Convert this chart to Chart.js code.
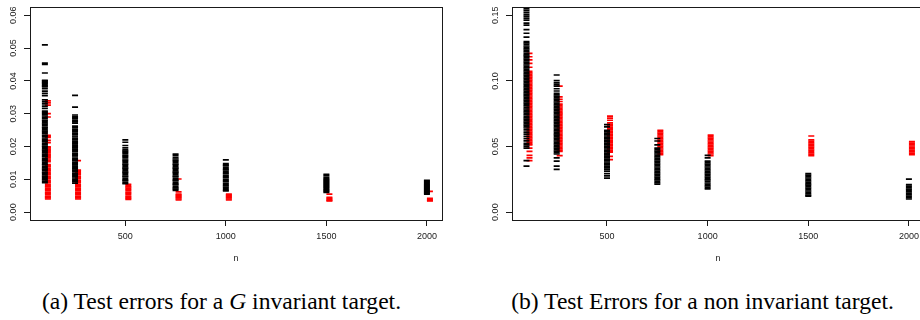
<!DOCTYPE html>
<html><head><meta charset="utf-8">
<script src="https://cdn.jsdelivr.net/npm/chart.js@4"></script>
<style>
html,body{margin:0;padding:0;background:#fff;}
#wrap{position:relative;width:920px;height:320px;overflow:hidden;background:#fff;}
canvas{position:absolute;top:0;}
#ca{left:0;}
#cb{left:460px;}
.cap{position:absolute;top:289px;font-family:"Liberation Serif","Tinos","Times New Roman","DejaVu Serif",serif;font-size:23.6px;line-height:24px;color:#000;white-space:nowrap;text-align:center;}
#capA{left:0;width:443px;}
#capB{left:485px;width:435px;}
</style></head><body>
<div id="wrap">
<canvas id="ca" width="460" height="275"></canvas>
<canvas id="cb" width="480" height="275"></canvas>
<div class="cap" id="capA">(a) Test errors for a <i>G</i> invariant target.</div>
<div class="cap" id="capB">(b) Test Errors for a non invariant target.</div>
</div>
<script>
// ---- data ----
const nValues = [100, 250, 500, 750, 1000, 1500, 2000];
const xTicks = [500, 1000, 1500, 2000];
const xTitle = 'n';
const yTicksA = [0, 0.01, 0.02, 0.03, 0.04, 0.05, 0.06];
const yLabelsA = ['0.00', '0.01', '0.02', '0.03', '0.04', '0.05', '0.06'];
const yTicksB = [0, 0.05, 0.10, 0.15];
const yLabelsB = ['0.00', '0.05', '0.10', '0.15'];

// panel (a): G invariant target — black and red test errors per n
const aBlack = [
  [0.0510,0.0454,0.0450,0.0424,0.0402,0.0400,0.0397,0.0394,0.0392,0.0388,0.0385,0.0382,0.0376,0.0369,0.0362,0.0355,0.0342,0.0336,0.0330,0.0323,0.0316,0.0308,0.0304,0.0301,0.0297,0.0293,0.0289,0.0285,0.0280,0.0277,0.0272,0.0268,0.0264,0.0259,0.0256,0.0251,0.0247,0.0243,0.0239,0.0234,0.0231,0.0226,0.0222,0.0218,0.0214,0.0209,0.0206,0.0201,0.0198,0.0193,0.0189,0.0185,0.0181,0.0177,0.0172,0.0169,0.0164,0.0160,0.0156,0.0152,0.0147,0.0144,0.0139,0.0135,0.0131,0.0127,0.0122,0.0119,0.0114,0.0110,0.0106,0.0102,0.0098,0.0094,0.0090],
  [0.0356,0.0320,0.0296,0.0291,0.0287,0.0284,0.0279,0.0275,0.0271,0.0262,0.0258,0.0253,0.0249,0.0245,0.0241,0.0237,0.0232,0.0229,0.0224,0.0220,0.0216,0.0212,0.0208,0.0204,0.0199,0.0196,0.0192,0.0188,0.0184,0.0179,0.0176,0.0172,0.0168,0.0163,0.0160,0.0156,0.0151,0.0148,0.0144,0.0140,0.0135,0.0132,0.0128,0.0124,0.0119,0.0116,0.0112,0.0108,0.0104,0.0100,0.0096,0.0092,0.0088],
  [0.0220,0.0213,0.0203,0.0196,0.0190,0.0186,0.0182,0.0179,0.0174,0.0170,0.0167,0.0162,0.0158,0.0155,0.0150,0.0146,0.0143,0.0138,0.0134,0.0131,0.0126,0.0122,0.0119,0.0114,0.0110,0.0107,0.0102,0.0098,0.0095,0.0090,0.0087],
  [0.0177,0.0172,0.0166,0.0162,0.0158,0.0155,0.0150,0.0146,0.0143,0.0138,0.0134,0.0131,0.0126,0.0122,0.0119,0.0114,0.0110,0.0107,0.0102,0.0098,0.0095,0.0090,0.0086,0.0083,0.0078,0.0074,0.0070,0.0066],
  [0.0159,0.0148,0.0144,0.0141,0.0136,0.0132,0.0129,0.0124,0.0120,0.0117,0.0112,0.0108,0.0105,0.0100,0.0096,0.0093,0.0088,0.0084,0.0081,0.0076,0.0072,0.0068,0.0065],
  [0.0115,0.0111,0.0106,0.0102,0.0099,0.0096,0.0093,0.0090,0.0087,0.0084,0.0081,0.0078,0.0075,0.0072,0.0069,0.0066,0.0063,0.0060],
  [0.0097,0.0094,0.0091,0.0088,0.0085,0.0082,0.0079,0.0076,0.0073,0.0070,0.0067,0.0064,0.0061,0.0058,0.0055]
];
const aRed = [
  [0.0339,0.0333,0.0326,0.0300,0.0290,0.0234,0.0231,0.0228,0.0219,0.0212,0.0199,0.0196,0.0192,0.0188,0.0185,0.0181,0.0177,0.0173,0.0170,0.0166,0.0162,0.0158,0.0154,0.0145,0.0141,0.0138,0.0133,0.0129,0.0126,0.0121,0.0117,0.0114,0.0109,0.0105,0.0102,0.0097,0.0093,0.0090,0.0085,0.0081,0.0078,0.0073,0.0069,0.0066,0.0061,0.0057,0.0054,0.0049,0.0046,0.0043,0.0040],
  [0.0157,0.0128,0.0125,0.0121,0.0117,0.0114,0.0109,0.0105,0.0102,0.0097,0.0093,0.0090,0.0085,0.0081,0.0078,0.0073,0.0069,0.0066,0.0061,0.0057,0.0054,0.0049,0.0046,0.0043,0.0040],
  [0.0085,0.0081,0.0077,0.0073,0.0069,0.0066,0.0061,0.0057,0.0054,0.0049,0.0045,0.0042,0.0039],
  [0.0101,0.0062,0.0055,0.0052,0.0049,0.0046,0.0043,0.0040,0.0037],
  [0.0055,0.0052,0.0049,0.0046,0.0043,0.0040,0.0037],
  [0.0055,0.0045,0.0042,0.0039,0.0036,0.0034],
  [0.0063,0.0042,0.0039,0.0036,0.0034]
];

// panel (b): non invariant target
const bBlack = [
  [0.1550,0.1537,0.1522,0.1507,0.1493,0.1478,0.1463,0.1440,0.1425,0.1390,0.1363,0.1333,0.1300,0.1289,0.1278,0.1266,0.1255,0.1244,0.1233,0.1222,0.1210,0.1199,0.1188,0.1177,0.1166,0.1155,0.1143,0.1132,0.1121,0.1110,0.1099,0.1088,0.1076,0.1065,0.1054,0.1043,0.1032,0.1021,0.1010,0.0998,0.0987,0.0976,0.0965,0.0954,0.0943,0.0931,0.0920,0.0909,0.0898,0.0887,0.0876,0.0864,0.0853,0.0842,0.0831,0.0820,0.0809,0.0797,0.0786,0.0775,0.0764,0.0753,0.0742,0.0730,0.0719,0.0708,0.0697,0.0686,0.0675,0.0663,0.0652,0.0641,0.0626,0.0610,0.0594,0.0577,0.0560,0.0543,0.0525,0.0513,0.0500,0.0487,0.0393,0.0350],
  [0.1045,0.1002,0.0985,0.0972,0.0960,0.0940,0.0923,0.0905,0.0894,0.0883,0.0872,0.0861,0.0850,0.0839,0.0828,0.0817,0.0806,0.0795,0.0784,0.0773,0.0762,0.0751,0.0740,0.0729,0.0718,0.0707,0.0696,0.0685,0.0674,0.0663,0.0652,0.0641,0.0630,0.0619,0.0608,0.0597,0.0586,0.0575,0.0564,0.0553,0.0542,0.0531,0.0520,0.0509,0.0498,0.0487,0.0476,0.0465,0.0454,0.0443,0.0413,0.0388,0.0350,0.0326],
  [0.0666,0.0649,0.0624,0.0613,0.0602,0.0591,0.0580,0.0569,0.0558,0.0547,0.0536,0.0525,0.0514,0.0503,0.0492,0.0481,0.0470,0.0459,0.0448,0.0437,0.0426,0.0415,0.0404,0.0393,0.0382,0.0371,0.0360,0.0349,0.0338,0.0327,0.0313,0.0293,0.0276,0.0259],
  [0.0561,0.0542,0.0513,0.0487,0.0476,0.0465,0.0454,0.0443,0.0432,0.0421,0.0410,0.0399,0.0388,0.0377,0.0366,0.0355,0.0344,0.0333,0.0322,0.0311,0.0300,0.0289,0.0278,0.0267,0.0256,0.0245,0.0234,0.0224,0.0214],
  [0.0433,0.0413,0.0388,0.0377,0.0366,0.0355,0.0344,0.0333,0.0322,0.0311,0.0300,0.0289,0.0278,0.0267,0.0256,0.0245,0.0234,0.0222,0.0211,0.0200,0.0188,0.0177],
  [0.0293,0.0282,0.0271,0.0260,0.0249,0.0238,0.0227,0.0216,0.0205,0.0194,0.0183,0.0172,0.0161,0.0150,0.0139,0.0128,0.0122],
  [0.0251,0.0209,0.0198,0.0187,0.0176,0.0165,0.0154,0.0143,0.0132,0.0121,0.0110,0.0100]
];
const bRed = [
  [0.1209,0.1184,0.1160,0.1134,0.1104,0.1072,0.1061,0.1050,0.1039,0.1028,0.1017,0.1006,0.0995,0.0984,0.0973,0.0962,0.0951,0.0940,0.0929,0.0918,0.0907,0.0896,0.0885,0.0874,0.0863,0.0852,0.0841,0.0830,0.0819,0.0808,0.0797,0.0786,0.0775,0.0764,0.0753,0.0742,0.0731,0.0720,0.0709,0.0698,0.0687,0.0676,0.0665,0.0654,0.0643,0.0632,0.0621,0.0610,0.0599,0.0588,0.0577,0.0566,0.0555,0.0544,0.0533,0.0522,0.0513,0.0487,0.0463,0.0433,0.0413,0.0393],
  [0.0960,0.0878,0.0860,0.0843,0.0823,0.0812,0.0801,0.0790,0.0779,0.0768,0.0757,0.0746,0.0735,0.0724,0.0713,0.0702,0.0691,0.0680,0.0669,0.0658,0.0647,0.0636,0.0625,0.0614,0.0603,0.0592,0.0581,0.0570,0.0559,0.0548,0.0537,0.0526,0.0515,0.0504,0.0493,0.0482,0.0471,0.0463,0.0430],
  [0.0731,0.0716,0.0700,0.0681,0.0670,0.0659,0.0648,0.0637,0.0626,0.0615,0.0604,0.0593,0.0582,0.0571,0.0560,0.0549,0.0538,0.0527,0.0516,0.0505,0.0494,0.0483,0.0472,0.0461,0.0457,0.0425,0.0400],
  [0.0624,0.0613,0.0602,0.0591,0.0580,0.0569,0.0558,0.0547,0.0536,0.0525,0.0514,0.0503,0.0492,0.0481,0.0470,0.0459,0.0448,0.0438],
  [0.0587,0.0575,0.0564,0.0553,0.0542,0.0531,0.0520,0.0509,0.0498,0.0487,0.0476,0.0465,0.0454,0.0443,0.0430],
  [0.0580,0.0550,0.0539,0.0528,0.0517,0.0506,0.0495,0.0484,0.0473,0.0462,0.0451,0.0440,0.0430],
  [0.0537,0.0526,0.0515,0.0504,0.0493,0.0482,0.0471,0.0460,0.0449,0.0438]
];

// ---- drawing ----
const RED_SHIFT = 15; // red strip drawn just right of the black one
Chart.defaults.font.family = '"Liberation Sans", Arimo, Helvetica, Arial, sans-serif';
Chart.defaults.color = '#111';

function toPoints(cols, shift) {
  const out = [];
  cols.forEach((vals, i) => vals.forEach(v => out.push({x: nValues[i] + shift, y: v})));
  return out;
}

const boxPlugin = {
  id: 'rbox',
  afterDraw(chart) {
    const a = chart.chartArea, ctx = chart.ctx;
    const al = p => Math.round(p - 0.5) + 0.5;
    ctx.save();
    ctx.strokeStyle = '#1a1a1a';
    ctx.lineWidth = 1;
    ctx.strokeRect(al(a.left), al(a.top), al(a.right) - al(a.left), al(a.bottom) - al(a.top));
    ctx.restore();
  }
};

function makePanel(id, black, red, yTicks, yLabels, yMin, yMax, xMin, xMax, leftW, rightPad) {
  const ctx = document.getElementById(id);
  const mk = (data, color) => ({
    data, pointStyle: 'line', pointRadius: 3, pointHoverRadius: 3,
    pointBorderWidth: 1.7, borderColor: color, backgroundColor: color
  });
  return new Chart(ctx, {
    type: 'scatter',
    data: { datasets: [ mk(toPoints(black, 0), '#000000'), mk(toPoints(red, RED_SHIFT), '#ff0000') ] },
    options: {
      responsive: false, animation: false, events: [],
      layout: { padding: { top: 2, right: rightPad, left: 0, bottom: 0 } },
      plugins: { legend: { display: false }, tooltip: { enabled: false } },
      scales: {
        x: {
          type: 'linear', min: xMin, max: xMax,
          afterBuildTicks: s => { s.ticks = xTicks.map(v => ({value: v})); },
          afterFit: s => { s.height = 55; },
          grid: { drawOnChartArea: false, drawTicks: true, tickLength: 6, color: '#1a1a1a', lineWidth: 1 },
          border: { display: false },
          ticks: { autoSkip: false, maxRotation: 0, padding: 5, font: { size: 9 }, color: '#222',
                   callback: v => String(v) },
          title: { display: true, text: xTitle, font: { size: 9 }, color: '#222', padding: { top: 0, bottom: 10.9 } }
        },
        y: {
          type: 'linear', min: yMin, max: yMax,
          afterBuildTicks: s => { s.ticks = yTicks.map(v => ({value: v})); },
          afterFit: s => { s.width = leftW; },
          grid: { drawOnChartArea: false, drawTicks: true, tickLength: 6, color: '#1a1a1a', lineWidth: 1 },
          border: { display: false },
          ticks: { autoSkip: false, minRotation: 90, maxRotation: 90, crossAlign: 'center', padding: 2,
                   font: { size: 9 }, color: '#222',
                   callback: (v, i) => yLabels[i] }
        }
      }
    },
    plugins: [boxPlugin]
  });
}

makePanel('ca', aBlack, aRed, yTicksA, yLabelsA, -0.0024, 0.0624, 26, 2075, 30, 18);
makePanel('cb', bBlack, bRed, yTicksB, yLabelsB, -0.006, 0.156, 28, 2075, 52, 16);
</script>
</body></html>
